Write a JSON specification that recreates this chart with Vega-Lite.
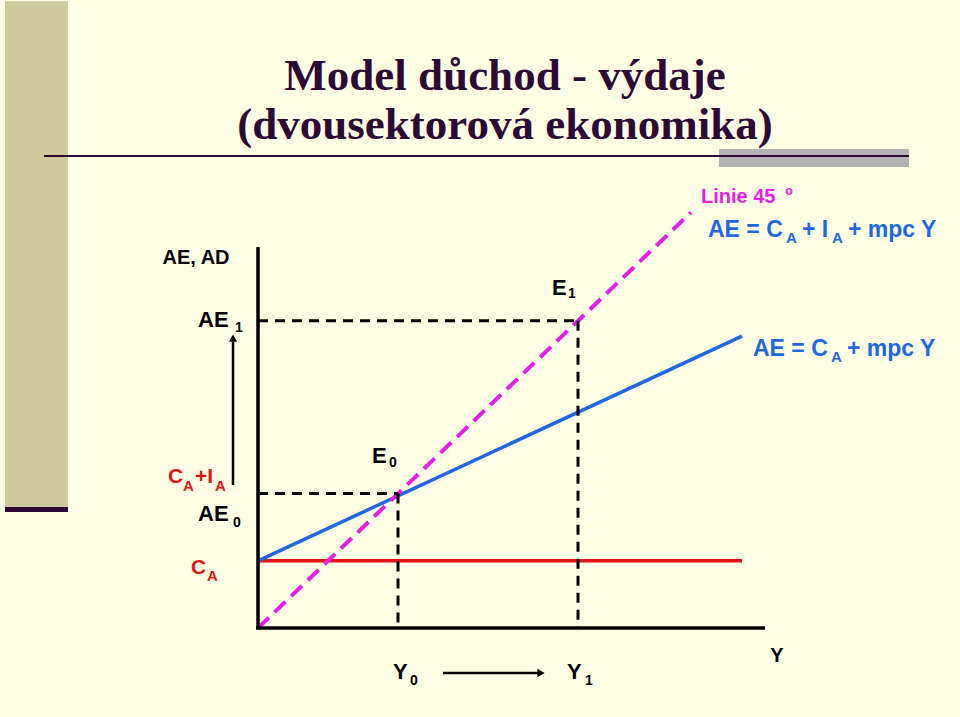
{
  "$schema": "https://vega.github.io/schema/vega-lite/v6.json",
  "width": 960,
  "height": 717,
  "autosize": {"type": "fit", "contains": "padding"},
  "padding": 0,
  "background": "#ffffe6",
  "config": {"view": {"stroke": null}},
  "datasets": {
    "panels": [
      {"x": -253, "x2": -190, "y": 126, "y2": 653, "part": "bar"},
      {"x": -253, "x2": -190, "y": 120.8, "y2": 126, "part": "base"},
      {"x": 461, "x2": 651, "y": 480.2, "y2": 499, "part": "grey"}
    ],
    "axes": [
      {"x": 0, "y": 0, "x2": 0, "y2": 397},
      {"x": -2, "y": 0, "x2": 507, "y2": 0}
    ],
    "consumption": [{"x": 0, "y": 70, "x2": 484, "y2": 70}],
    "ae": [{"x": 0, "y": 70, "x2": 484, "y2": 304}],
    "line45": [{"x": 0, "y": 0, "x2": 433, "y2": 433}],
    "guides": [
      {"x": 0, "y": 140, "x2": 140, "y2": 140},
      {"x": 140, "y": 140, "x2": 140, "y2": 0},
      {"x": 0, "y": 320, "x2": 320, "y2": 320},
      {"x": 320, "y": 320, "x2": 320, "y2": 0}
    ],
    "arrows": [
      {"x": -25, "y": 149, "x2": -25, "y2": 298},
      {"x": 185, "y": -46.9, "x2": 280, "y2": -46.9}
    ],
    "heads": [
      {"x": -25, "y": 302, "shape": "triangle-up"},
      {"x": 283, "y": -46.9, "shape": "triangle-right"}
    ],
    "title": [
      {"t": "Model důchod - výdaje", "y": 560.4},
      {"t": "(dvousektorová ekonomika)", "y": 509.4}
    ],
    "blackMain": [
      {"t": "AE", "x": -60, "y": 313.5},
      {"t": "AE", "x": -60, "y": 111.5},
      {"t": "E", "x": 114, "y": 171.9},
      {"t": "E", "x": 294, "y": 346.9},
      {"t": "Y", "x": 135, "y": -53.1},
      {"t": "Y", "x": 309, "y": -53.1}
    ],
    "blackSub": [
      {"t": "1", "x": -23, "y": 308.3},
      {"t": "0", "x": -25, "y": 105.2},
      {"t": "0", "x": 131, "y": 167.7},
      {"t": "1", "x": 310, "y": 343.5},
      {"t": "0", "x": 152, "y": -59.4},
      {"t": "1", "x": 327, "y": -59.4}
    ],
    "axisTitles": [
      {"t": "AE, AD", "x": -62, "y": 379.2, "a": "center"},
      {"t": "Y", "x": 519, "y": -35.4, "a": "left"}
    ],
    "redMain": [
      {"t": "C", "x": -90, "y": 151},
      {"t": "+I", "x": -63, "y": 151},
      {"t": "C", "x": -67, "y": 56.25}
    ],
    "redSub": [
      {"t": "A", "x": -75, "y": 142.7},
      {"t": "A", "x": -43, "y": 142.7},
      {"t": "A", "x": -51, "y": 49}
    ],
    "blueMain": [
      {"t": "AE = C", "x": 450, "y": 407.3},
      {"t": "+ I", "x": 544, "y": 407.3},
      {"t": "+ mpc Y", "x": 590, "y": 407.3},
      {"t": "AE = C", "x": 495, "y": 283.3},
      {"t": "+ mpc Y", "x": 589, "y": 283.3}
    ],
    "blueSub": [
      {"t": "A", "x": 528, "y": 401},
      {"t": "A", "x": 574, "y": 401},
      {"t": "A", "x": 573, "y": 277.1}
    ],
    "magenta": [
      {"t": "Linie 45", "x": 443, "y": 442.7}
    ],
    "degree": [
      {"t": "o", "x": 527, "y": 451}
    ]
  },
  "encoding": {
    "x": {"type": "quantitative", "scale": {"domain": [-258, 702], "nice": false, "zero": false}, "axis": null},
    "y": {"type": "quantitative", "scale": {"domain": [-92.7, 654.2], "nice": false, "zero": false}, "axis": null}
  },
  "layer": [
    {
      "data": {"name": "panels"},
      "mark": {"type": "rect"},
      "encoding": {
        "x": {"field": "x", "type": "quantitative"}, "x2": {"field": "x2"},
        "y": {"field": "y", "type": "quantitative"}, "y2": {"field": "y2"},
        "fill": {"field": "part", "type": "nominal", "legend": null, "scale": {"domain": ["bar", "base", "grey"], "range": ["#cdca9c", "#2d0a35", "#b3b3b3"]}}
      }
    },
    {
      "data": {"values": [{"x": -214, "x2": 651, "y": 491.7}]},
      "mark": {"type": "rule", "color": "#2d0a35", "strokeWidth": 2},
      "encoding": {"x": {"field": "x", "type": "quantitative"}, "x2": {"field": "x2"}, "y": {"field": "y", "type": "quantitative"}}
    },
    {
      "data": {"name": "title"},
      "mark": {"type": "text", "font": "Liberation Serif", "fontWeight": "bold", "fontSize": 45, "color": "#2d0a35", "align": "center", "baseline": "alphabetic"},
      "encoding": {"x": {"datum": 247}, "y": {"field": "y", "type": "quantitative"}, "text": {"field": "t"}}
    },
    {
      "data": {"name": "consumption"},
      "mark": {"type": "rule", "color": "#e01515", "strokeWidth": 3.5},
      "encoding": {"x": {"field": "x", "type": "quantitative"}, "y": {"field": "y", "type": "quantitative"}, "x2": {"field": "x2"}, "y2": {"field": "y2"}}
    },
    {
      "data": {"name": "ae"},
      "mark": {"type": "rule", "color": "#1f67e0", "strokeWidth": 3.5},
      "encoding": {"x": {"field": "x", "type": "quantitative"}, "y": {"field": "y", "type": "quantitative"}, "x2": {"field": "x2"}, "y2": {"field": "y2"}}
    },
    {
      "data": {"name": "line45"},
      "mark": {"type": "rule", "color": "#e61ee6", "strokeWidth": 4, "strokeDash": [15, 8]},
      "encoding": {"x": {"field": "x", "type": "quantitative"}, "y": {"field": "y", "type": "quantitative"}, "x2": {"field": "x2"}, "y2": {"field": "y2"}}
    },
    {
      "data": {"name": "guides"},
      "mark": {"type": "rule", "color": "#000000", "strokeWidth": 3, "strokeDash": [10, 7]},
      "encoding": {"x": {"field": "x", "type": "quantitative"}, "y": {"field": "y", "type": "quantitative"}, "x2": {"field": "x2"}, "y2": {"field": "y2"}}
    },
    {
      "data": {"name": "axes"},
      "mark": {"type": "rule", "color": "#000000", "strokeWidth": 3.5},
      "encoding": {"x": {"field": "x", "type": "quantitative"}, "y": {"field": "y", "type": "quantitative"}, "x2": {"field": "x2"}, "y2": {"field": "y2"}}
    },
    {
      "data": {"name": "arrows"},
      "mark": {"type": "rule", "color": "#000000", "strokeWidth": 2.5},
      "encoding": {"x": {"field": "x", "type": "quantitative"}, "y": {"field": "y", "type": "quantitative"}, "x2": {"field": "x2"}, "y2": {"field": "y2"}}
    },
    {
      "data": {"name": "heads"},
      "mark": {"type": "point", "filled": true, "color": "#000000", "size": 70, "opacity": 1},
      "encoding": {"x": {"field": "x", "type": "quantitative"}, "y": {"field": "y", "type": "quantitative"}, "shape": {"field": "shape", "type": "nominal", "scale": null}}
    },
    {
      "data": {"name": "blackMain"},
      "mark": {"type": "text", "font": "Liberation Sans", "fontWeight": "bold", "fontSize": 22, "color": "#000000", "align": "left", "baseline": "alphabetic"},
      "encoding": {"x": {"field": "x", "type": "quantitative"}, "y": {"field": "y", "type": "quantitative"}, "text": {"field": "t"}}
    },
    {
      "data": {"name": "blackSub"},
      "mark": {"type": "text", "font": "Liberation Sans", "fontWeight": "bold", "fontSize": 14, "color": "#000000", "align": "left", "baseline": "alphabetic"},
      "encoding": {"x": {"field": "x", "type": "quantitative"}, "y": {"field": "y", "type": "quantitative"}, "text": {"field": "t"}}
    },
    {
      "data": {"name": "axisTitles"},
      "mark": {"type": "text", "font": "Liberation Sans", "fontWeight": "bold", "fontSize": 20, "color": "#000000", "baseline": "alphabetic"},
      "encoding": {"x": {"field": "x", "type": "quantitative"}, "y": {"field": "y", "type": "quantitative"}, "text": {"field": "t"}, "align": {"field": "a", "type": "nominal", "scale": null}}
    },
    {
      "data": {"name": "redMain"},
      "mark": {"type": "text", "font": "Liberation Sans", "fontWeight": "bold", "fontSize": 21, "color": "#e01515", "align": "left", "baseline": "alphabetic"},
      "encoding": {"x": {"field": "x", "type": "quantitative"}, "y": {"field": "y", "type": "quantitative"}, "text": {"field": "t"}}
    },
    {
      "data": {"name": "redSub"},
      "mark": {"type": "text", "font": "Liberation Sans", "fontWeight": "bold", "fontSize": 15, "color": "#e01515", "align": "left", "baseline": "alphabetic"},
      "encoding": {"x": {"field": "x", "type": "quantitative"}, "y": {"field": "y", "type": "quantitative"}, "text": {"field": "t"}}
    },
    {
      "data": {"name": "blueMain"},
      "mark": {"type": "text", "font": "Liberation Sans", "fontWeight": "bold", "fontSize": 23, "color": "#1f67e0", "align": "left", "baseline": "alphabetic"},
      "encoding": {"x": {"field": "x", "type": "quantitative"}, "y": {"field": "y", "type": "quantitative"}, "text": {"field": "t"}}
    },
    {
      "data": {"name": "blueSub"},
      "mark": {"type": "text", "font": "Liberation Sans", "fontWeight": "bold", "fontSize": 15, "color": "#1f67e0", "align": "left", "baseline": "alphabetic"},
      "encoding": {"x": {"field": "x", "type": "quantitative"}, "y": {"field": "y", "type": "quantitative"}, "text": {"field": "t"}}
    },
    {
      "data": {"name": "magenta"},
      "mark": {"type": "text", "font": "Liberation Sans", "fontWeight": "bold", "fontSize": 20, "color": "#e61ee6", "align": "left", "baseline": "alphabetic"},
      "encoding": {"x": {"field": "x", "type": "quantitative"}, "y": {"field": "y", "type": "quantitative"}, "text": {"field": "t"}}
    },
    {
      "data": {"name": "degree"},
      "mark": {"type": "text", "font": "Liberation Sans", "fontWeight": "bold", "fontSize": 13, "color": "#e61ee6", "align": "left", "baseline": "alphabetic"},
      "encoding": {"x": {"field": "x", "type": "quantitative"}, "y": {"field": "y", "type": "quantitative"}, "text": {"field": "t"}}
    }
  ]
}
